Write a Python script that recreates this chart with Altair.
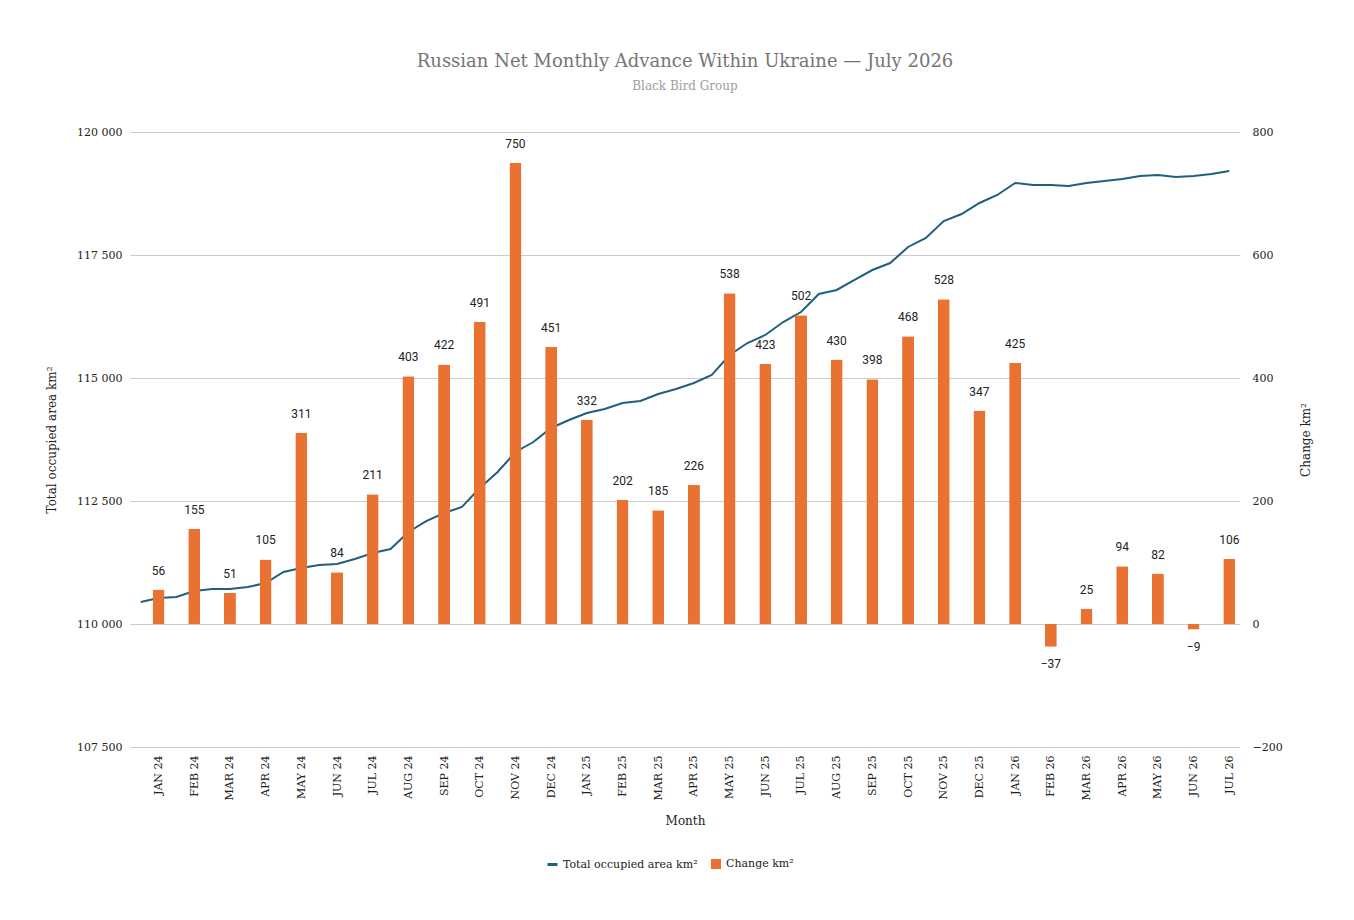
import json
import pandas as pd
import altair as alt

months = ["JAN 24", "FEB 24", "MAR 24", "APR 24", "MAY 24", "JUN 24", "JUL 24", "AUG 24",
          "SEP 24", "OCT 24", "NOV 24", "DEC 24", "JAN 25", "FEB 25", "MAR 25", "APR 25",
          "MAY 25", "JUN 25", "JUL 25", "AUG 25", "SEP 25", "OCT 25", "NOV 25", "DEC 25",
          "JAN 26", "FEB 26", "MAR 26", "APR 26", "MAY 26", "JUN 26", "JUL 26"]
change = [56, 155, 51, 105, 311, 84, 211, 403, 422, 491, 750, 451, 332, 202, 185, 226,
          538, 423, 502, 430, 398, 468, 528, 347, 425, -37, 25, 94, 82, -9, 106]
# total area, sampled every half month starting half a month before JAN 24
total_step = [-0.5 + 0.5 * i for i in range(62)]
total_area = [110447, 110528, 110549, 110671, 110711, 110711, 110752, 110833, 111057, 111138,
              111199, 111220, 111321, 111443, 111524, 111870, 112093, 112256, 112378, 112764,
              113089, 113496, 113699, 113984, 114146, 114289, 114370, 114492, 114533, 114675,
              114776, 114898, 115061, 115467, 115711, 115874, 116138, 116341, 116707, 116789,
              116992, 117195, 117337, 117663, 117846, 118191, 118333, 118557, 118720, 118963,
              118923, 118923, 118902, 118963, 119004, 119045, 119106, 119126, 119085, 119106,
              119146, 119207]

bars_df = pd.DataFrame({"i": range(len(months)), "change": change,
                        "s": "Change km²"})
line_df = pd.DataFrame({"i": total_step, "total": total_area,
                        "s": "Total occupied area km²"})

SERIF = "DejaVu Serif"
x = alt.X("i:Q", title="Month", scale=alt.Scale(domain=[-0.66, 30.16], nice=False, zero=False),
          axis=alt.Axis(values=list(range(31)), labelAngle=-90, labelAlign="right",
                        labelBaseline="middle", labelPadding=8, grid=False, domain=False,
                        ticks=False, labelExpr=f"{json.dumps(months)}[datum.value]",
                        titlePadding=16))

line = alt.Chart(line_df).mark_line(strokeWidth=2).encode(
    x=x,
    y=alt.Y("total:Q", title="Total occupied area km²",
            scale=alt.Scale(domain=[107500, 120000], nice=False, zero=False),
            axis=alt.Axis(values=[107500, 110000, 112500, 115000, 117500, 120000],
                          labelExpr="replace(format(datum.value, ','), ',', ' ')",
                          domain=False, ticks=False, gridColor="#cccccc", labelPadding=8,
                          titlePadding=18)),
    stroke=alt.Stroke("s:N", scale=alt.Scale(range=["#1f5f7f"]),
                      legend=alt.Legend(title=None, symbolType="stroke", symbolStrokeWidth=3,
                                        orient="none", legendX=416, legendY=726)),
)

yr = alt.Y("change:Q", title="Change km²", scale=alt.Scale(domain=[-200, 800], nice=False),
           axis=alt.Axis(orient="right", values=[-200, 0, 200, 400, 600, 800], grid=False,
                         domain=False, ticks=False, titleAngle=-90, labelPadding=12,
                         titlePadding=30))

bars = alt.Chart(bars_df).mark_bar(size=12, cornerRadius=1).encode(
    x=x, y=yr,
    fill=alt.Fill("s:N", scale=alt.Scale(range=["#e97132"]),
                  legend=alt.Legend(title=None, symbolType="square", orient="none",
                                    legendX=580, legendY=726)),
)
lab_pos = alt.Chart(bars_df).transform_filter("datum.change >= 0").mark_text(
    baseline="bottom", dy=-12, font="Roboto", fontSize=12, color="#222222").encode(
    x=x, y=yr, text="change:Q")
lab_neg = alt.Chart(bars_df).transform_filter("datum.change < 0").mark_text(
    baseline="top", dy=12, font="Roboto", fontSize=12, color="#222222").encode(
    x=x, y=yr, text=alt.Text("change:Q", format=","))

right = alt.layer(bars, lab_pos, lab_neg)
chart = alt.layer(line, right).resolve_scale(y="independent", fill="independent",
                                             stroke="independent").properties(
    width=1110, height=615,
    autosize=alt.AutoSizeParams(type="none"),
    padding={"left": 122, "top": 124, "right": 100, "bottom": 160},
    title=alt.TitleParams("Russian Net Monthly Advance Within Ukraine — July 2026",
                          subtitle="Black Bird Group", font=SERIF, fontSize=18,
                          fontWeight="normal", color="#757575", subtitleFont=SERIF,
                          subtitleFontSize=12, subtitleColor="#9e9e9e", offset=34,
                          subtitlePadding=10),
).configure_axis(labelFont=SERIF, labelFontSize=11, labelColor="#222222", titleFont=SERIF,
                 titleFontSize=12, titleFontWeight="normal", titleColor="#222222"
).configure_legend(labelFont=SERIF, labelFontSize=11, labelColor="#222222", direction="horizontal"
).configure_view(stroke=None)

chart.save("out.html", embed_options={"renderer": "svg", "actions": False})
